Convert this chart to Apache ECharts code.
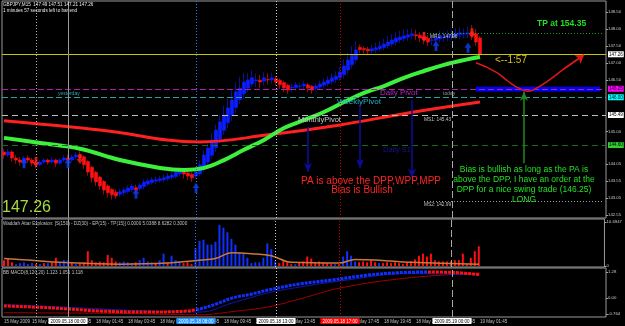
<!DOCTYPE html>
<html>
<head>
<meta charset="utf-8">
<script src="https://cdn.jsdelivr.net/npm/echarts@6/dist/echarts.min.js"></script>
<style>
html, body { margin: 0; padding: 0; background: #000; }
#chart { width: 625px; height: 326px; }
</style>
</head>
<body>
<div id="chart"></div>
<script>
// GBPJPY M15 - bars: 16 Friday bars from 15 May 20:00, then Monday 18 May 00:00 onwards
let categories = [];
for (let i = 0; i < 151; i++) {
    let m = i < 16 ? 20 * 60 + i * 15 : (i - 16) * 15;
    let day = i < 16 ? '2009.05.15' : (m < 1440 ? '2009.05.18' : '2009.05.19');
    m = m % 1440;
    categories.push(day + ' ' + String(Math.floor(m / 60)).padStart(2, '0') + ':' + String(m % 60).padStart(2, '0'));
}

// [open, close, low, high]
const candles = [
    [144.40,144.31,144.20,144.48],[144.31,144.40,144.25,144.50],[144.40,144.22,144.12,144.45],[144.22,144.16,144.05,144.30],
    [144.16,144.10,144.00,144.25],[144.10,144.22,144.05,144.28],[144.22,144.16,144.08,144.30],[144.16,144.07,143.98,144.22],
    [144.07,144.02,143.92,144.15],[144.02,144.10,143.98,144.16],[144.10,144.16,144.04,144.22],[144.16,144.10,144.02,144.20],
    [144.10,144.16,144.05,144.24],[144.16,144.07,143.95,144.20],[144.07,144.16,144.02,144.22],[144.16,144.22,144.10,144.30],
    [144.22,144.16,144.05,144.32],[144.16,144.25,144.10,144.32],[144.25,144.31,144.18,144.40],[144.31,144.22,144.10,144.42],
    [144.26,144.02,143.90,144.30],[144.12,143.81,143.70,144.15],[143.95,143.64,143.50,144.00],[143.80,143.52,143.40,143.85],
    [143.66,143.40,143.28,143.70],[143.53,143.28,143.15,143.58],[143.40,143.20,143.05,143.45],[143.30,143.14,143.00,143.35],
    [143.22,143.11,143.02,143.30],[143.16,143.23,143.08,143.32],[143.20,143.28,143.12,143.36],[143.24,143.34,143.18,143.42],
    [143.29,143.40,143.22,143.48],[143.35,143.28,143.18,143.44],[143.32,143.43,143.25,143.50],[143.38,143.52,143.30,143.60],
    [143.45,143.55,143.40,143.62],[143.50,143.58,143.44,143.66],[143.54,143.58,143.46,143.68],[143.56,143.61,143.50,143.70],
    [143.58,143.64,143.52,143.74],[143.61,143.69,143.55,143.78],[143.65,143.72,143.58,143.82],[143.68,143.81,143.62,143.90],
    [143.75,143.87,143.68,143.96],[143.81,143.75,143.62,143.92],[143.78,143.69,143.56,143.86],[143.74,143.64,143.52,143.80],
    [143.69,143.81,143.60,143.95],[143.75,144.02,143.70,144.15],[143.88,144.31,143.82,144.45],[144.10,144.51,144.00,144.70],
    [144.30,144.75,144.20,144.95],[144.52,145.04,144.40,145.20],[144.78,145.28,144.65,145.50],[145.03,145.48,144.90,145.75],
    [145.25,145.69,145.10,145.95],[145.47,145.92,145.30,146.20],[145.70,146.16,145.55,146.45],[145.93,146.27,145.80,146.60],
    [146.10,146.45,145.95,146.70],[146.27,146.51,146.15,146.72],[146.39,146.57,146.30,146.80],[146.48,146.51,146.30,146.70],
    [146.50,146.45,146.28,146.65],[146.47,146.57,146.35,146.75],[146.52,146.51,146.38,146.70],[146.51,146.57,146.40,146.72],
    [146.54,146.45,146.35,146.62],[146.50,146.37,146.25,146.55],[146.43,146.27,146.15,146.48],[146.35,146.21,146.10,146.40],
    [146.28,146.30,146.15,146.40],[146.29,146.36,146.20,146.45],[146.32,146.33,146.22,146.42],[146.33,146.39,146.25,146.48],
    [146.36,146.27,146.15,146.42],[146.32,146.21,146.10,146.36],[146.26,146.33,146.18,146.42],[146.30,146.39,146.22,146.48],
    [146.35,146.45,146.28,146.55],[146.40,146.51,146.32,146.62],[146.46,146.57,146.38,146.70],[146.52,146.62,146.42,146.76],
    [146.57,146.74,146.48,146.90],[146.66,146.92,146.55,147.10],[146.80,147.09,146.70,147.30],[146.95,147.24,146.85,147.50],
    [147.10,147.39,147.00,147.65],[147.47,147.40,147.30,147.55],[147.43,147.39,147.28,147.50],[147.41,147.36,147.25,147.48],
    [147.36,147.42,147.28,147.55],[147.39,147.45,147.30,147.60],[147.42,147.50,147.35,147.65],[147.46,147.56,147.38,147.72],
    [147.51,147.62,147.42,147.80],[147.56,147.68,147.48,147.85],[147.62,147.74,147.52,147.90],[147.68,147.77,147.58,147.95],
    [147.72,147.80,147.62,147.98],[147.76,147.83,147.65,148.00],[147.80,147.86,147.70,148.02],[147.83,147.80,147.68,147.98],
    [147.82,147.74,147.62,147.92],[147.78,147.68,147.55,147.88],[147.73,147.62,147.50,147.82],[147.67,147.68,147.52,147.80],
    [147.67,147.74,147.55,147.88],[147.71,147.80,147.60,147.95],[147.75,147.77,147.62,147.92],[147.76,147.80,147.65,147.95],
    [147.78,147.83,147.68,147.98],[147.80,147.86,147.70,148.02],[147.83,147.89,147.72,148.05],[147.85,147.87,147.72,148.02],
    [147.86,147.89,147.74,148.08],[147.92,147.80,147.68,148.12],[147.86,147.62,147.50,148.00],[147.74,147.26,147.21,147.80]
];

// moving averages, [bar, price]
const maGreen = [[0,144.81],[9,144.66],[19,144.49],[29,144.16],[39,143.93],[45,143.87],[50,143.93],[55,144.16],[60,144.46],
    [65,144.75],[70,145.10],[75,145.33],[80,145.57],[85,145.86],[90,146.13],[95,146.33],[100,146.57],[105,146.77],
    [110,146.95],[115,147.09],[119,147.18]];
const maRed = [[0,145.31],[24,145.04],[49,144.69],[66,144.90],[84,145.19],[101,145.54],[119,145.86]];

// signal arrows [bar, price]
const arrowsUp = [[5,144.07],[16,144.07],[33,143.17],[48,143.34],[108,147.50],[116,147.45]];
const arrowsDown = [[8,144.10],[19,144.19],[105,147.77],[117,147.88]];

// horizontal levels and their axis tags
const levels = [147.26, 146.25, 146.00, 145.48, 144.60];
const levelTags = ['147.26', '146.25', '146.00', '145.49', '144.60'];
const mr1 = 147.88, ms2 = 142.96;
const mainTicks = [148.5, 148, 147.5, 147, 146.5, 145, 144.05, 143.55, 143.05, 142.55];

// vertical lines
const vLineBars = [8, 16, 48, 68, 84, 112];
const vLineTags = ['', '2009.05.18 00:00', '2009.05.18 08:00', '2009.05.18 13:00', '2009.05.18 17:00', '2009.05.19 00:00'];

// time axis labels
const labelBars = [0, 7, 15, 23, 31, 39, 47, 55, 63, 71, 79, 87, 95, 103, 111, 119];
const labelTexts = ['15 May 2009', '15 May 21:45', '15 May 23:45', '18 May 01:45', '18 May 03:45', '18 May 05:45',
    '18 May 07:45', '18 May 09:45', '18 May 11:45', '18 May 13:45', '18 May 15:45', '18 May 17:45',
    '18 May 19:45', '18 May 21:45', '18 May 23:45', '19 May 01:45'];

// Waddah Attar Explosion
const waeUp = [0,0,0,0.45,0.7,0.9,0.45,0.7,0,0.45, 0,0.7,0,0,0.9,1.4,1.4,0,0.45,0, 0,0,0,0,0,0,0,0,0,0.9,
    1.1,0.9,0.7,0,1.4,2.0,1.1,0.9,0,1.4, 3.0,0,2.5,1.4,1.1,0,0,0,4.3,6.1, 6.4,5.2,5.2,5.9,10.0,9.3,8.2,6.6,5.2,3.2,
    3.0,2.0,0.7,0.9,0.9,2.0,5.5,4.1,1.1,0, 0,0,0,0.45,0,0,0,0,0,0, 0,0,0,0.45,0,2.3,3.6,2.5,1.1,0,
    0,0,0,0,0.7,0,0,0,0,0, 0,0,0,0,0,0,0,0,0,0, 0,0,0,0,0,0,0,0,0,0];
const waeDown = [1.4,1.8,0.9,0,0,0,0,0,0.45,0, 0.7,0,0.9,2.0,0,0,0,0.7,0,0.7, 0.9,3.6,1.4,0.9,1.1,0.9,2.7,2.0,1.1,0,
    0,0,0,0.9,0,0,0,0,0.7,0, 0,0.9,0,0,0,0.7,0.9,0.45,0,0, 0,0,0,0,0,0,0,0,0,0,
    0,0,0,0,0,0,0,0,0,0.7, 1.1,0.9,0.45,0,0.9,1.1,2.3,1.8,0.9,1.1, 0.9,0.7,0.45,0,0.45,0,0,0,0,0.9,
    1.1,0.9,1.4,0.9,0,0.7,0.9,0.7,0.9,0.7, 0.45,0.9,1.1,1.6,2.5,3.0,2.3,3.0,1.4,1.1, 1.1,1.1,1.1,1.4,1.4,3.0,0.45,2.0,3.6,4.8];
const waeLine = [[0,1.8],[7,1.4],[14,0.9],[29,0.45],[41,0.7],[49,1.4],[53,1.8],[57,3.2],[62,3.0],[67,2.5],[72,0.9],
    [84,0.7],[88,1.6],[94,1.4],[102,0.9],[119,0.45]];
const waeTicks = [10.6947, 0], waeTickText = ['10.6947', '0'];

// BB MACD
const macdDownA = [[0,-0.37],[12,-0.47],[24,-0.62],[36,-0.67],[46,-0.62],[48,-0.55]];
const macdUp = [[48,-0.55],[49,-0.52],[53,-0.28],[57,0.01],[62,0.21],[66,0.40],[74,0.70],[82,0.89],[91,1.13],[99,1.25],[106,1.28]];
const macdDownB = [[106,1.28],[112,1.26],[119,1.15]];
const macdUpper = [[0,-0.30],[14,-0.42],[36,-0.62],[49,-0.67],[57,-0.23],[66,0.26],[74,0.55],[84,0.84],[101,1.20],[119,1.14]];
const macdLower = [[0,-0.70],[30,-0.74],[49,-0.80],[57,-0.65],[66,-0.42],[74,-0.03],[84,0.50],[101,0.99],[119,1.23]];
const macdTicks = [1.28, 0, -0.764], macdTickText = ['1.28', '0.00', '-0.764'];

// drawn objects
const navyArrows = [[76,145.13,143.81],[89,145.75,143.93],[102,145.92,143.64]];
const greenArrow = [130,144.07,146.16];
const curvePath = [[118,147.01],[123,146.74],[126,146.47],[129,146.25],[131,146.18],[133,146.26],[136,146.48],[140,146.83],[145,147.24]];

const FONT = 'Liberation Sans';
const BLUE = '#0a1eff', RED = '#ff1010';

function vLines(withTags) {
    const styles = [
        {color: '#b4b4b4', type: [1, 2]},
        {color: '#9a9a9a', type: 'solid'},
        {color: '#2a7cff', type: [1, 2]},
        {color: '#d0d0d0', type: [1, 2]},
        {color: '#d00000', type: [1, 2]},
        {color: '#a8a8a8', type: [7, 3]}
    ];
    const tagBg = ['', '#ffffff', '#1e90ff', '#ffffff', '#ff0000', '#ffffff'];
    const tagFg = ['', '#000', '#fff', '#000', '#fff', '#000'];
    return vLineBars.map((b, k) => ({
        xAxis: b,
        lineStyle: Object.assign({width: 1}, styles[k]),
        label: (withTags && vLineTags[k]) ? {
            show: true, position: 'start', formatter: vLineTags[k], backgroundColor: tagBg[k],
            color: tagFg[k], fontSize: 4.5, fontFamily: FONT, padding: [1, 2, 0, 2], distance: 1
        } : {show: false}
    }));
}

function hLevels() {
    const st = [
        {color: '#c8c800', type: 'solid', bg: '#ffffff'},
        {color: '#b020b0', type: [6, 3], bg: '#ff00ff'},
        {color: '#2aa0a0', type: [6, 3], bg: '#00ffff'},
        {color: '#c0c0c0', type: [6, 4], bg: '#ffffff'},
        {color: '#1f6a1f', type: [6, 4], bg: '#33cc33'}
    ];
    return levels.map((v, k) => ({
        yAxis: v,
        lineStyle: {color: st[k].color, type: st[k].type, width: 1},
        label: {show: true, position: 'end', formatter: levelTags[k], backgroundColor: st[k].bg, color: '#000',
            fontSize: 4.5, fontFamily: FONT, padding: [1, 1, 0, 1], distance: 2}
    }));
}

function arrowLine(bar, from, to, color) {
    return [
        {coord: [bar, from], symbol: 'none', lineStyle: {color: color, width: 1.5, type: 'solid'}},
        {coord: [bar, to], symbol: 'arrow', symbolSize: [6, 9], lineStyle: {color: color, width: 1.5, type: 'solid'}}
    ];
}

let mainMarks = hLevels().concat(vLines(false));
mainMarks.push([{coord: [105, mr1], lineStyle: {color: '#20a020', type: [1, 2], width: 1}}, {coord: [150, mr1]}]);
mainMarks.push([{coord: [105, ms2], lineStyle: {color: '#a0a0a0', type: [1, 2], width: 1}}, {coord: [150, ms2]}]);
navyArrows.forEach(a => mainMarks.push(arrowLine(a[0], a[1], a[2], '#0c0c9c')));
mainMarks.push(arrowLine(greenArrow[0], greenArrow[1], greenArrow[2], '#1c8c1c'));

function xAx(grid, showLabels) {
    return {
        type: 'category', gridIndex: grid, data: categories, boundaryGap: true,
        axisLine: {show: false}, axisTick: {show: false}, splitLine: {show: false},
        axisLabel: showLabels ? {
            show: true, color: '#c0c0c0', fontSize: 4.5, fontFamily: FONT, align: 'left', margin: 2,
            interval: (idx) => labelBars.indexOf(idx) >= 0,
            formatter: (val, idx) => { let k = labelBars.indexOf(idx); return k >= 0 ? labelTexts[k] : ''; }
        } : {show: false}
    };
}

function yAx(grid, min, max, ticks, fmt) {
    return {
        type: 'value', gridIndex: grid, position: 'right', min: min, max: max,
        splitLine: {show: false}, axisLine: {show: false},
        axisTick: {show: true, length: 2, lineStyle: {color: '#a0a0a0'}, customValues: ticks},
        axisLabel: {color: '#c8c8c8', fontSize: 4.3, fontFamily: FONT, margin: 2, customValues: ticks, formatter: fmt}
    };
}

function txt(text, x, y, color, size, extra) {
    return {
        type: 'text', x: x, y: y, z: 100, silent: true,
        style: Object.assign({text: text, fill: color, fontSize: size, fontFamily: FONT, align: 'left', verticalAlign: 'middle'}, extra || {})
    };
}

const arrowUpPath = 'path://M5,0 L10,5 L7,5 L7,10 L3,10 L3,5 L0,5 Z';
const arrowDownPath = 'path://M3,0 L7,0 L7,5 L10,5 L5,10 L0,5 L3,5 Z';
const gridBox = {show: true, borderColor: '#9a9a9a', borderWidth: 1, left: 2, right: 19};

let chart = echarts.init(document.getElementById('chart'));
let option = {
    backgroundColor: '#000',
    animation: false,
    grid: [
        Object.assign({top: 1, height: 217}, gridBox),
        Object.assign({top: 219, height: 48}, gridBox),
        Object.assign({top: 268, height: 49}, gridBox)
    ],
    xAxis: [xAx(0, false), xAx(1, false), xAx(2, true)],
    yAxis: [
        yAx(0, 142.462, 148.822, mainTicks, v => v.toFixed(2)),
        yAx(1, -0.243, 11.424, waeTicks, v => waeTickText[waeTicks.indexOf(v)] || ''),
        yAx(2, -0.91, 1.474, macdTicks, v => macdTickText[macdTicks.indexOf(v)] || '')
    ],
    series: [
        {
            type: 'candlestick', xAxisIndex: 0, yAxisIndex: 0, data: candles, barWidth: 3, z: 3,
            itemStyle: {color: BLUE, color0: RED, borderColor: BLUE, borderColor0: RED, borderWidth: 0.6},
            markArea: {
                silent: true, itemStyle: {color: '#0000ff'},
                data: [[{coord: [118, 146.31]}, {coord: [149, 146.17]}]]
            },
            markLine: {silent: true, symbol: ['none', 'none'], label: {show: false}, data: mainMarks}
        },
        {
            type: 'line', xAxisIndex: 0, yAxisIndex: 0, data: maRed, smooth: 0.4, symbol: 'none', z: 4,
            lineStyle: {color: '#ff2020', width: 3}
        },
        {
            type: 'line', xAxisIndex: 0, yAxisIndex: 0, data: maGreen, smooth: 0.4, symbol: 'none', z: 4,
            lineStyle: {color: '#3cf03c', width: 4}
        },
        {
            type: 'scatter', xAxisIndex: 0, yAxisIndex: 0, data: arrowsUp, symbol: arrowUpPath, symbolSize: [7, 10], z: 5,
            itemStyle: {color: '#1040ff'}
        },
        {
            type: 'scatter', xAxisIndex: 0, yAxisIndex: 0, data: arrowsDown, symbol: arrowDownPath, symbolSize: [7, 10], z: 5,
            itemStyle: {color: '#ff2020'}
        },
        {
            type: 'line', xAxisIndex: 0, yAxisIndex: 0, data: curvePath, smooth: 0.5, symbol: 'none', z: 6,
            lineStyle: {color: '#e01818', width: 1.5},
            markLine: {
                silent: true, symbol: ['none', 'arrow'], symbolSize: 8, label: {show: false},
                lineStyle: {color: '#e01818', width: 1.5, type: 'solid'},
                data: [[{coord: curvePath[curvePath.length - 2]}, {coord: curvePath[curvePath.length - 1]}]]
            }
        },
        {
            type: 'bar', xAxisIndex: 1, yAxisIndex: 1, data: waeUp, barWidth: 2, barGap: '-100%',
            itemStyle: {color: '#1030ff'},
            markLine: {silent: true, symbol: ['none', 'none'], label: {show: false}, data: vLines(false)}
        },
        {
            type: 'bar', xAxisIndex: 1, yAxisIndex: 1, data: waeDown, barWidth: 2, barGap: '-100%',
            itemStyle: {color: '#ff1010'}
        },
        {
            type: 'line', xAxisIndex: 1, yAxisIndex: 1, data: waeLine, smooth: 0.4, symbol: 'none', z: 4,
            lineStyle: {color: '#c8783c', width: 1.5}
        },
        {
            type: 'line', xAxisIndex: 2, yAxisIndex: 2, data: macdLower, smooth: 0.4, symbol: 'none',
            lineStyle: {color: '#a00000', width: 1}
        },
        {
            type: 'line', xAxisIndex: 2, yAxisIndex: 2, data: macdUpper, smooth: 0.4, symbol: 'none',
            lineStyle: {color: '#1414b4', width: 1}
        },
        {
            type: 'line', xAxisIndex: 2, yAxisIndex: 2, data: macdDownA, smooth: 0.4, symbol: 'none', z: 4,
            lineStyle: {color: '#ff1010', width: 3, type: [3, 1], cap: 'butt'}
        },
        {
            type: 'line', xAxisIndex: 2, yAxisIndex: 2, data: macdUp, smooth: 0.4, symbol: 'none', z: 4,
            lineStyle: {color: '#1030ff', width: 3, type: [3, 1], cap: 'butt'},
            markLine: {silent: true, symbol: ['none', 'none'], label: {show: false}, data: vLines(true)}
        },
        {
            type: 'line', xAxisIndex: 2, yAxisIndex: 2, data: macdDownB, smooth: 0.4, symbol: 'none', z: 4,
            lineStyle: {color: '#ff1010', width: 3, type: [3, 1], cap: 'butt'}
        }
    ],
    graphic: {
        elements: [
            txt('GBPJPY,M15  147.49 147.51 147.21 147.26', 3, 5, '#e8e8e8', 4.6),
            txt('1 minutes 57 seconds left to bar end', 3, 10.5, '#e8e8e8', 4.6),
            txt('147.26', 2, 208, '#a8dc3c', 16),
            txt('TP at 154.35', 537, 24, '#22dd22', 8.5, {fontWeight: 'bold'}),
            txt('<--1:57', 495, 60, '#d4c21e', 10),
            txt('Daily Pivot', 380, 93, '#c020c0', 8),
            txt('WeeklyPivot', 337, 102, '#20b4c4', 8),
            txt('MonthlyPivot', 298, 120, '#c8c8c8', 7.5),
            txt('Daily S1', 383, 150, '#14148c', 7.5),
            txt('yesterday', 58, 94, '#30a8a8', 5),
            txt('today', 443, 94, '#8a9a9a', 5),
            txt('MR1: 147.96', 430, 37, '#c0c0c0', 4.8),
            txt('MS1: 145.43', 424, 120, '#c0c0c0', 4.8),
            txt('MS2: 142.99', 424, 205, '#c0c0c0', 4.8),
            txt('PA is above the DPP,WPP,MPP', 371, 181, '#ff2222', 10, {align: 'center'}),
            txt('Bias is Bullish', 362, 190, '#ff2222', 10, {align: 'center'}),
            txt('Bias is bullish as long as the PA is\nabove the DPP, I have an order at the\nDPP for a nice swing trade (146.25)\nLONG',
                524, 185, '#22e022', 8.5, {align: 'center', lineHeight: 10}),
            txt('Waddah Attar Explosion: [S(150) - DZ(30) - EP(15) - TP(15)] 0.0000 5.0388 8.6282 0.3000', 3, 224, '#c0c0c0', 4.6),
            txt('BB MACD(8,120,20) 1.123 1.051 1.118', 3, 273, '#c0c0c0', 4.6)
        ]
    }
};
chart.setOption(option);
</script>
</body>
</html>
